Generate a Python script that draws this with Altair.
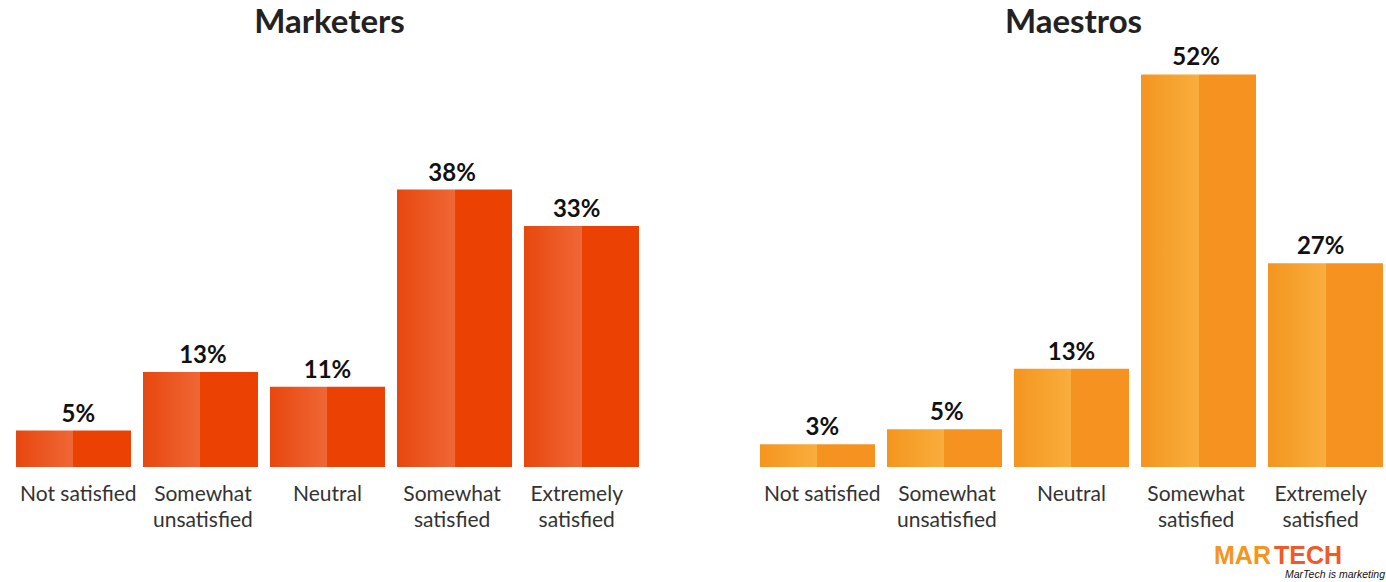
import altair as alt
import pandas as pd

categories = ["Not satisfied", "Somewhat unsatisfied", "Neutral", "Somewhat satisfied", "Extremely satisfied"]
label_lines = ["Not satisfied", "Somewhat\nunsatisfied", "Neutral", "Somewhat\nsatisfied", "Extremely\nsatisfied"]
marketers = [5, 13, 11, 38, 33]
maestros = [3, 5, 13, 52, 27]
titles = ["Marketers", "Maestros"]

FONT = "Lato"
W, H = 1386, 400

grad_red = {"gradient": "linear", "x1": 0, "x2": 1, "y1": 0, "y2": 0,
            "stops": [{"offset": 0, "color": "#E8470E"}, {"offset": 0.5, "color": "#EF6736"},
                      {"offset": 0.5, "color": "#EB4204"}, {"offset": 1, "color": "#EB4204"}]}
grad_orange = {"gradient": "linear", "x1": 0, "x2": 1, "y1": 0, "y2": 0,
               "stops": [{"offset": 0, "color": "#F4951F"}, {"offset": 0.5, "color": "#F9AE3D"},
                         {"offset": 0.5, "color": "#F6921F"}, {"offset": 1, "color": "#F6921F"}]}


def panel(values, ymax, grad, title, xr):
    df = pd.DataFrame({"category": categories, "value": values,
                       "pct": [f"{v}%" for v in values], "lab": label_lines})
    x = alt.X("category:N", sort=categories, axis=None,
              scale=alt.Scale(range=xr, paddingInner=0.0945, paddingOuter=0))
    y = alt.Y("value:Q", axis=None, scale=alt.Scale(domain=[0, ymax], nice=False, zero=True))
    base = alt.Chart(df)
    bars = base.mark_bar(color=grad).encode(x=x, y=y)
    pct = base.mark_text(font=FONT, fontSize=24, fontWeight="bold", color="#111111",
                         baseline="alphabetic", dy=-9).encode(x=x, y=y, text="pct:N")
    cats = base.mark_text(font=FONT, fontSize=21, color="#333333", baseline="alphabetic",
                          lineBreak="\n", lineHeight=26).encode(x=x, y=alt.value(434), text="lab:N")
    tdf = pd.DataFrame({"t": [title]})
    ttl = alt.Chart(tdf).mark_text(font=FONT, fontSize=33, fontWeight="bold", color="#222222",
                                   baseline="alphabetic").encode(
        x=alt.value((xr[0] + xr[1]) / 2 + 2), y=alt.value(-34), text="t:N")
    return [bars, pct, cats, ttl]


layers = panel(marketers, 400 / 7.3, grad_red, titles[0], [16, 639])
layers += panel(maestros, 400 / 7.55, grad_orange, titles[1], [760, 1383])

ldf = pd.DataFrame({"a": ["MAR"], "b": ["TECH"], "c": ["MarTech is marketing"]})
l1 = alt.Chart(ldf).mark_text(font="Liberation Sans", fontSize=25, fontWeight="bold",
                              color="#F7941D", align="left", baseline="alphabetic").encode(
    x=alt.value(1214), y=alt.value(497), text="a:N")
l2 = alt.Chart(ldf).mark_text(font="Liberation Sans", fontSize=25, fontWeight="bold",
                              color="#F05A28", align="left", baseline="alphabetic").encode(
    x=alt.value(1274), y=alt.value(497), text="b:N")
l3 = alt.Chart(ldf).mark_text(font="Liberation Sans", fontSize=10.5, fontStyle="italic",
                              color="#111111", align="right", baseline="alphabetic").encode(
    x=alt.value(1385), y=alt.value(511), text="c:N")
layers += [l1, l2, l3]

chart = alt.layer(*layers).resolve_scale(x="independent", y="independent").properties(
    width=W, height=H,
    autosize=alt.AutoSizeParams(type="none"),
    padding={"left": 0, "top": 67, "right": 0, "bottom": 115},
    background="white",
).configure_view(stroke=None)

chart.save("out.html", embed_options={"renderer": "svg", "actions": False})
